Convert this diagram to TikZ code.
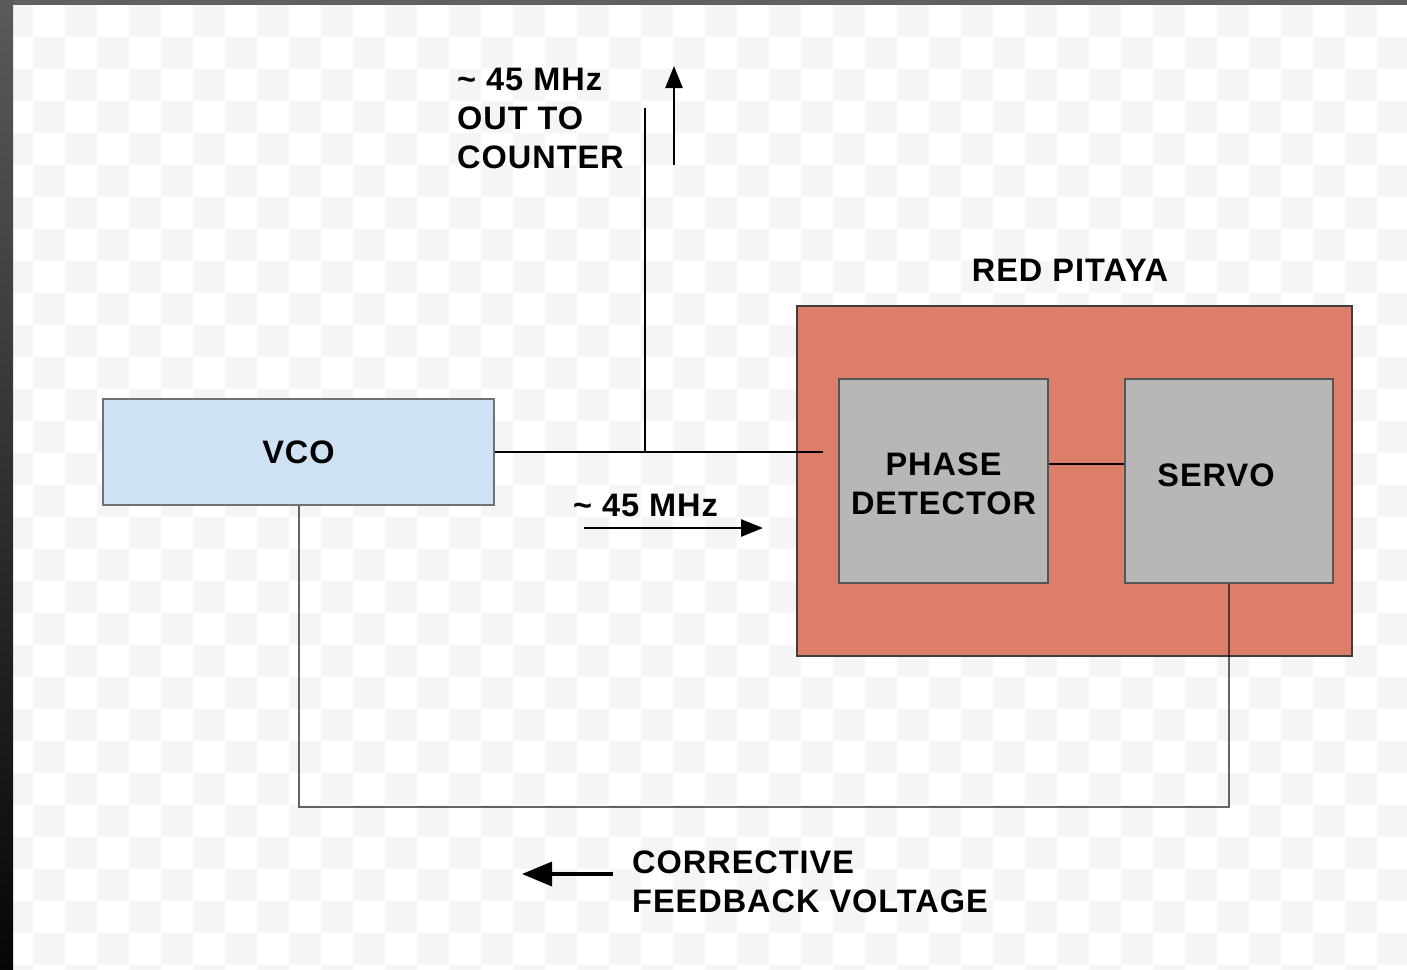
\documentclass[tikz,border=0pt]{standalone}
\usepackage{fontspec}
\setmainfont{Liberation Sans}
\newfontfamily\lblfont[LetterSpace=3]{Liberation Sans}
\usetikzlibrary{arrows.meta,calc}
\definecolor{vcoblue}{HTML}{CFE2F3}
\definecolor{rpred}{HTML}{DD7E6B}
\definecolor{boxgray}{HTML}{B7B7B7}
\definecolor{vcoborder}{HTML}{707070}
\definecolor{gborder}{HTML}{555555}
\definecolor{rpborder}{HTML}{3E3E3E}
\definecolor{checker}{HTML}{F5F5F5}
\definecolor{frametop}{HTML}{5F6064}
\definecolor{frameA}{HTML}{5A5A5C}
\definecolor{frameB}{HTML}{060606}
\begin{document}
\begin{tikzpicture}[x=1pt,y=-1pt,
  lbl/.style={font=\lblfont\fontsize{32.5}{39}\selectfont\bfseries, inner sep=0pt, text=black},
  vcobox/.style={draw=vcoborder, line width=2pt, fill=vcoblue, inner sep=0pt},
  gbox/.style={draw=gborder, line width=2pt, fill=boxgray, inner sep=0pt},
  rpbox/.style={draw=rpborder, line width=1.6pt, fill=rpred, inner sep=0pt},
  sig/.style={draw=black, line width=1.5pt},
  fb/.style={draw=black, draw opacity=0.6, line width=2pt},
  arr/.style={draw=black, line width=2.6pt, -{Triangle[length=22pt,width=17pt]}},
  bigarr/.style={draw=black, line width=3.4pt, -{Triangle[length=30pt,width=24pt]}}
]
\useasboundingbox (0,0) rectangle (1407,969);
% background
\fill[white] (0,0) rectangle (1407,969);
\begin{scope}
  \clip (13,5) rectangle (1407,969);
  \foreach \i in {0,...,43}{
    \foreach \j in {0,...,30}{
      \pgfmathtruncatemacro\p{mod(\i+\j,2)}
      \ifnum\p=0
        \fill[checker] ({1+32*\i},{5+32*\j}) rectangle ++(32,32);
      \fi
    }
  }
\end{scope}
\fill[frametop] (0,0) rectangle (1407,5);
\shade[top color=frameA, bottom color=frameB] (0,0) rectangle (13,969);

% boxes
\node[rpbox, minimum width=555pt, minimum height=350pt] (rp) at (1074.5,481) {};
\node[lbl] (rptitle) at (1070,270) {RED PITAYA};
\node[gbox, minimum width=209pt, minimum height=204pt,
      label={[lbl,align=center,yshift=-2.5pt]center:PHASE\\DETECTOR}] (pd) at (943.5,481) {};
\node[gbox, minimum width=208pt, minimum height=204pt,
      label={[lbl,yshift=6pt,xshift=-13pt]center:SERVO}] (servo) at (1229,481) {};
\node[vcobox, minimum width=391pt, minimum height=106pt, font=\lblfont\fontsize{32.5}{39}\selectfont\bfseries] (vco) at (298.5,452) {VCO};

% connectors
\coordinate (pdin) at (823,452);
\coordinate (tap) at (645,452);
\coordinate (ctrtop) at (645,108);
\coordinate (fbc) at (298.5,807);
\draw[sig] (vco.east) -- (pdin);
\draw[sig] (tap) -- (ctrtop);
\draw[sig] ($(pd.east)+(0,-17)$) -- ($(servo.west)+(0,-17)$);
\draw[fb] (servo.south) |- (fbc) -- (vco.south);

% arrows
\coordinate (ua1) at (674,165);
\coordinate (ua2) at (674,66);
\draw[arr] (ua1) -- (ua2);
\coordinate (ra1) at (584,528);
\coordinate (ra2) at (763,528);
\draw[arr] (ra1) -- (ra2);
\coordinate (la1) at (613,874);
\coordinate (la2) at (522,874);
\draw[bigarr] (la1) -- (la2);

% labels
\node[lbl, align=left, anchor=north west] (outlbl) at (457,67.5) {\textasciitilde\ 45 MHz\\OUT TO\\COUNTER};
\node[lbl] (freqlbl) at (645.5,505) {\textasciitilde\ 45 MHz};
\node[lbl, align=left, anchor=north west] (fblbl) at (632,850.5) {CORRECTIVE\\FEEDBACK VOLTAGE};
\end{tikzpicture}
\end{document}
